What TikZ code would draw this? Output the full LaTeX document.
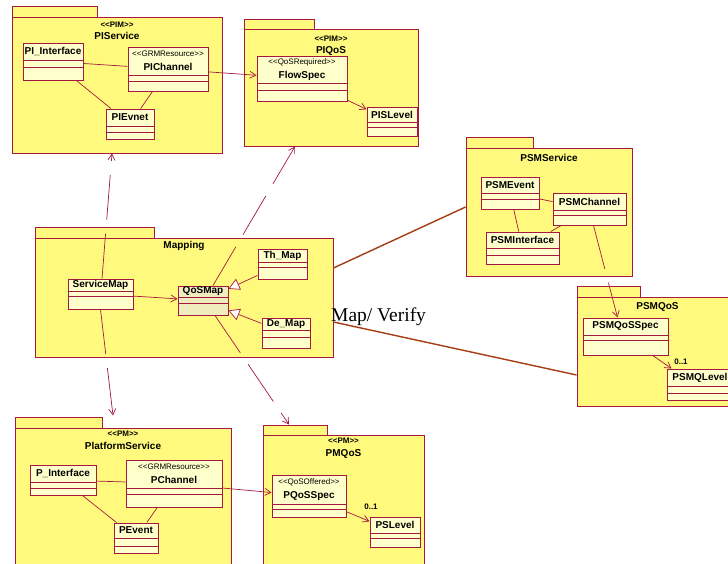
\documentclass[tikz,border=0pt]{standalone}
\usepackage{fontspec}
\setmainfont{Liberation Sans}
\newfontfamily\mvfont{Liberation Serif}
\usetikzlibrary{arrows.meta,fit}

\definecolor{pkgfill}{RGB}{255,250,125}
\definecolor{clsfill}{RGB}{255,255,204}
\definecolor{qosfill}{RGB}{240,236,190}
\definecolor{umlred}{RGB}{165,25,65}
\definecolor{mapbrown}{RGB}{165,60,20}

% stereotype text, with plain << >> (no guillemet ligature)
\newcommand{\stereo}[1]{<\kern0pt<#1>\kern0pt>}
\newcommand{\stfont}{\mdseries\fontsize{8}{9}\selectfont}
\newcommand{\pkst}{\fontsize{8}{9}\selectfont}
% class box: [style]{name}{x1}{y1}{x2}{y2}{name part}{attr part}{text}
\newcommand{\umlclass}[9][]{%
    \node[cls, #1, fit={(#3,#4) (#5,#6)}] (#2) {};
    \node[clsname] (#2name) at ({(#3+#5)/2},{#4+#7/2}) {#9};
    \draw[cmp] (#3,{#4+#7}) -- (#5,{#4+#7});
    \draw[cmp] (#3,{#4+#7+#8}) -- (#5,{#4+#7+#8});
}

\begin{document}
\begin{tikzpicture}[
    x=1pt, y=-1pt,
    pkg/.style={draw=umlred, line width=0.9pt, fill=pkgfill, inner sep=0pt},
    pkglabel/.style={font=\bfseries\fontsize{10}{11}\selectfont, align=center,
        inner sep=0pt, anchor=north},
    cls/.style={draw=umlred, line width=1pt, fill=clsfill, inner sep=0pt},
    clsname/.style={font=\bfseries\fontsize{10}{12}\selectfont, align=center,
        inner sep=0pt},
    cmp/.style={umlred, line width=0.8pt},
    edge/.style={umlred, line width=0.7pt},
    nav/.style={edge, -{Straight Barb[length=6pt, width=7pt]}},
    dep/.style={nav, dash pattern=on 45pt off 14pt},
    gen/.style={edge, -{Triangle[length=11pt, width=12pt, fill=white]}},
    trace/.style={mapbrown, line width=1.4pt},
    mult/.style={font=\bfseries\fontsize{8}{9}\selectfont, inner sep=0pt}
]
    \useasboundingbox (0,0) rectangle (728,563);

    % packages
    \node[pkg, fit={(12,6) (97,17)}] (PIServicetab) {};
    \node[pkg, fit={(12,17) (222,153)}] (PIService) {};
    \node[pkglabel] (PIServicelbl) at (117,22) {{\pkst\stereo{PIM}}\\[1pt]PIService};

    \node[pkg, fit={(244,19) (314,29)}] (PIQoStab) {};
    \node[pkg, fit={(244,29) (418,146)}] (PIQoS) {};
    \node[pkglabel] (PIQoSlbl) at (331,35.5) {{\pkst\stereo{PIM}}\\[1pt]PIQoS};

    \node[pkg, fit={(466,137) (533,148)}] (PSMServicetab) {};
    \node[pkg, fit={(466,148) (632,276)}] (PSMService) {};
    \node[pkglabel] (PSMServicelbl) at (549,154) {PSMService};

    \node[pkg, fit={(35,227) (154,238)}] (Mappingtab) {};
    \node[pkg, fit={(35,238) (333,357)}] (Mapping) {};
    \node[pkglabel] (Mappinglbl) at (184,241) {Mapping};

    \node[pkg, fit={(577,286) (640,297)}] (PSMQoStab) {};
    \node[pkg, fit={(577,297) (738,406)}] (PSMQoS) {};
    \node[pkglabel] (PSMQoSlbl) at (657.5,302) {PSMQoS};

    \node[pkg, fit={(15,417) (102,428)}] (PlatformServicetab) {};
    \node[pkg, fit={(15,428) (231,580)}] (PlatformService) {};
    \node[pkglabel] (PlatformServicelbl) at (123,431) {{\pkst\stereo{PM}}\\[2pt]PlatformService};

    \node[pkg, fit={(263,425) (327,435)}] (PMQoStab) {};
    \node[pkg, fit={(263,435) (424,580)}] (PMQoS) {};
    \node[pkglabel] (PMQoSlbl) at (343.5,438) {{\pkst\stereo{PM}}\\[2pt]PMQoS};

    % classes
    \umlclass{PIinterface}{23}{43}{83}{80}{17}{7}{PI\_Interface}
    \umlclass{PIchannel}{128}{47}{208}{91}{28}{6}{{\stfont\stereo{GRMResource}}\\[2pt]PIChannel}
    \umlclass{PIevnet}{106}{109}{154}{139}{17}{6}{PIEvnet}
    \umlclass{FlowSpec}{257}{56}{347}{101}{27}{7}{{\stfont\stereo{QoSRequired}}\\[2pt]FlowSpec}
    \umlclass{PISLevel}{367}{107}{417}{136}{15}{5}{PISLevel}
    \umlclass{PSMEvent}{481}{177}{539}{209}{16}{6}{PSMEvent}
    \umlclass{PSMChannel}{553}{193}{626}{225}{17}{5}{PSMChannel}
    \umlclass{PSMInterface}{486}{232}{559}{264}{16}{7}{PSMInterface}
    \umlclass{ServiceMap}{68}{279}{133}{309}{12}{5}{ServiceMap}
    \umlclass[fill=qosfill]{QoSMap}{178}{286}{228}{315}{11}{6}{QoSMap}
    \umlclass{ThMap}{258}{249}{307}{279}{13}{5}{Th\_Map}
    \umlclass{DeMap}{262}{318}{310}{348}{12}{7}{De\_Map}
    \umlclass{PSMQoSSpec}{583}{318}{668}{355}{17}{5}{PSMQoSSpec}
    \umlclass{PSMQLevel}{667}{369}{733}{400}{17}{7}{PSMQLevel}
    \umlclass{Pinterface}{30}{465}{96}{495}{17}{6}{P\_Interface}
    \umlclass{Pchannel}{126}{460}{222}{507}{28}{6}{{\stfont\stereo{GRMResource}}\\[2pt]PChannel}
    \umlclass{Pevent}{114}{523}{158}{553}{15}{8}{PEvent}
    \umlclass{PQoSSpec}{272}{475}{346}{517}{29}{5}{{\stfont\stereo{QoSOffered}}\\[2pt]PQoSSpec}
    \umlclass{PSLevel}{370}{517}{420}{547}{16}{5}{PSLevel}

    \node[mult] (PSMQLevelmult) at (681,362) {0..1};
    \node[mult] (PSLevelmult) at (371,507) {0..1};

    % associations
    \draw[edge] (PIinterface) -- (PIchannel);
    \draw[edge] (PIinterface) -- (PIevnet);
    \draw[edge] (PIchannel) -- (PIevnet);
    \draw[nav] (PIchannel) -- (FlowSpec);
    \draw[nav] (FlowSpec) -- (PISLevel);
    \draw[edge] (PSMEvent) -- (PSMChannel);
    \draw[edge] (PSMEvent) -- (PSMInterface);
    \draw[edge] (PSMChannel) -- (PSMInterface);
    \draw[nav] (ServiceMap) -- (QoSMap);
    \draw[gen] (ThMap) -- (QoSMap);
    \draw[gen] (DeMap) -- (QoSMap);
    \draw[nav] (PSMQoSSpec) -- ([xshift=5]PSMQLevel.north west);
    \draw[edge] (Pinterface) -- (Pchannel);
    \draw[edge] (Pinterface) -- (Pevent);
    \draw[edge] (Pchannel) -- (Pevent);
    \draw[nav] (Pchannel) -- (PQoSSpec);
    \draw[nav] (PQoSSpec) -- (PSLevel);

    % dependencies
    \draw[dep] ([xshift=1.5]ServiceMap.north) -- ([xshift=-5]PIService.south);
    \draw[dep] (ServiceMap.south) -- ([xshift=-10, yshift=12]PlatformService.north);
    \draw[dep] ([xshift=10]QoSMap.north) -- ([xshift=-36]PIQoS.south);
    \draw[dep] ([xshift=12]QoSMap.south) -- ([xshift=-6]PMQoStab.north);
    \draw[dep] ([xshift=4]PSMChannel.south) -- ([xshift=-8]PSMQoSSpec.north);

    % mapping to PSM
    \draw[trace] ([yshift=29.5]Mapping.east) -- ([yshift=5]PSMService.west);
    \draw[trace] ([yshift=-24.5]Mapping.east) -- ([yshift=-23.5]PSMQoS.west);
    \node[anchor=base west, inner sep=0pt, font=\mvfont\fontsize{19.5}{22}\selectfont]
        (mapverify) at (331,321) {Map/ Verify};
\end{tikzpicture}
\end{document}
